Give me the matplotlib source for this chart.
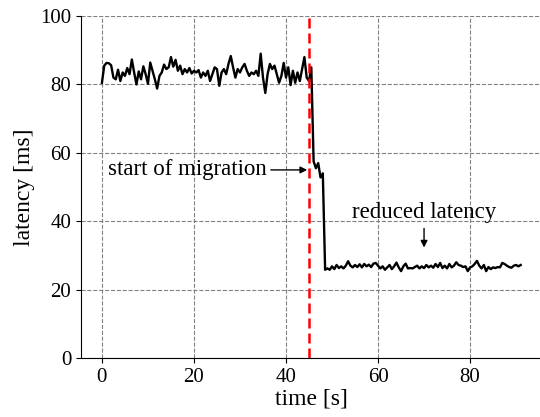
import matplotlib
matplotlib.use("Agg")
import matplotlib.pyplot as plt

# latency samples every 0.5 s
step = 0.5
latency = [
    # before migration (0 - 45.5 s)
    80.5, 85.5, 86.3, 86.2, 85.6, 82.0, 81.5, 84.3, 81.0, 83.5,
    82.5, 84.8, 83.0, 87.3, 83.5, 80.0, 83.8, 81.5, 85.3, 83.0,
    80.2, 86.4, 84.0, 81.5, 78.8, 82.5, 83.5, 85.8, 84.5, 85.0,
    88.0, 85.2, 87.2, 84.0, 85.5, 83.0, 84.5, 83.5, 84.8, 83.2,
    84.0, 83.5, 84.2, 82.0, 83.5, 82.5, 84.0, 81.0, 83.0, 85.0,
    84.5, 79.6, 83.5, 84.5, 83.0, 86.0, 88.3, 85.0, 82.0, 84.5,
    83.5, 85.0, 86.0, 84.0, 82.5, 83.5, 83.0, 84.0, 82.5, 89.0,
    82.0, 77.5, 83.0, 86.0, 84.5, 85.5, 83.0, 80.5, 82.5, 86.3,
    82.0, 85.0, 79.8, 84.0, 80.5, 83.5, 81.0, 84.5, 88.0, 82.0,
    81.0, 85.0,
    # during migration (46 - 48 s)
    57.5, 55.5, 57.0, 52.8, 54.0,
    # after migration (48.5 - 91 s)
    25.8, 26.2, 25.8, 26.8, 26.0, 27.2, 26.3, 26.8, 26.2, 27.0,
    28.3, 27.0, 26.5, 27.2, 26.6, 27.4, 26.5, 27.5, 26.8, 27.3,
    26.6, 27.6, 27.8, 27.0, 26.2, 26.8, 25.8, 26.5, 27.2, 26.0,
    26.8, 27.9, 26.5, 25.4, 26.8, 27.6, 26.2, 26.3, 26.2, 26.6,
    27.0, 26.2, 26.8, 26.3, 27.2, 26.5, 27.0, 26.4, 27.5, 26.6,
    27.8, 26.3, 27.0, 26.2, 27.5, 26.5, 27.0, 28.0, 27.2, 27.0,
    26.6, 26.8, 25.4, 26.5, 26.8, 27.5, 28.4, 27.0, 26.2, 27.2,
    25.4, 26.6, 26.0, 26.5, 26.3, 26.6, 26.5, 27.8, 27.5, 27.0,
    26.6, 26.4, 27.0, 27.2, 26.8, 27.2,
]
time = [i * step for i in range(len(latency))]
migration_start = 45

plt.rcParams['font.family'] = ['Liberation Serif', 'DejaVu Serif']

fig = plt.figure(figsize=(5.4, 4.17), dpi=100)
ax = fig.add_axes([0.15, 0.1415, 0.853, 0.82])

ax.plot(time, latency, color='black', linewidth=1.7, zorder=3)
ax.axvline(migration_start, color='red', linestyle=(0, (4, 2)), linewidth=1.8, zorder=4)

ax.annotate('start of migration', xy=(44.6, 55), xytext=(35.8, 55),
            ha='right', va='center', fontsize=16.5,
            arrowprops=dict(arrowstyle='-|>', color='black', lw=1.0,
                            mutation_scale=10, shrinkA=1, shrinkB=0))
ax.annotate('reduced latency', xy=(70, 32.3), xytext=(70, 39.5),
            ha='center', va='bottom', fontsize=16.5,
            arrowprops=dict(arrowstyle='-|>', color='black', lw=1.0,
                            mutation_scale=10, shrinkA=2, shrinkB=0))

ax.set_ylim(0, 100)
ax.set_xticks([0, 20, 40, 60, 80])
ax.set_yticks([0, 20, 40, 60, 80, 100])
ax.grid(True, color='gray', linestyle='--', linewidth=0.8)
ax.set_axisbelow(True)
ax.spines['top'].set_visible(False)
ax.spines['right'].set_visible(False)
ax.tick_params(labelsize=15)
ax.set_xlabel('time [s]', fontsize=17, labelpad=1)
ax.set_ylabel('latency [ms]', fontsize=17, labelpad=4)

fig.savefig('out.png', dpi=100)
